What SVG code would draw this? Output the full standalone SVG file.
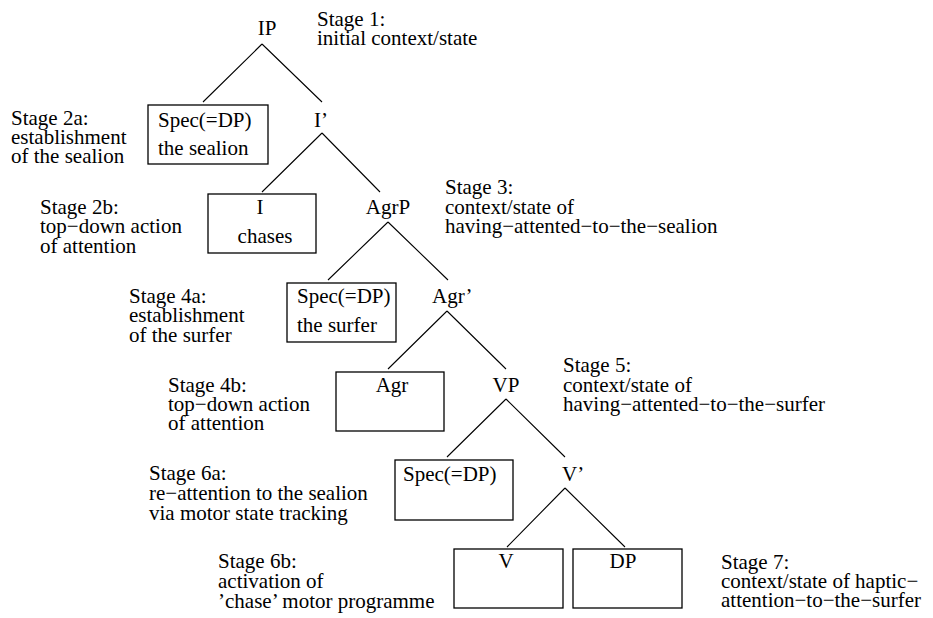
<svg xmlns="http://www.w3.org/2000/svg" width="933" height="618" viewBox="0 0 933 618">
  <style>
    text { font-family: 'Liberation Serif', 'Times New Roman', 'DejaVu Serif', serif; font-size: 21px; fill: #000; }
    .mid { text-anchor: middle; }
    .box { fill: none; stroke: #000; stroke-width: 1.3; }
    .edge { stroke: #000; stroke-width: 1.1; fill: none; }
  </style>
  <rect width="933" height="618" fill="#fff"/>

  <!-- tree branches -->
  <g id="connectors">
    <path class="edge" d="M262,44 L203,102 M262,44 L322,102"/>
    <path class="edge" d="M322,133 L262,192 M322,133 L380,192"/>
    <path class="edge" d="M388,222 L328,280 M388,222 L448,280"/>
    <path class="edge" d="M447,311 L388,369 M447,311 L506,369"/>
    <path class="edge" d="M506,399 L447,457 M506,399 L565,457"/>
    <path class="edge" d="M565,488 L507,547 M565,488 L625,547"/>
  </g>

  <g font-family="Liberation Serif, Times New Roman, DejaVu Serif, serif">
  <!-- tree nodes -->
  <g id="node-IP"><text class="mid" x="267" y="35">IP</text></g>
  <g id="node-spec-sealion">
    <rect class="box" x="148" y="105" width="120" height="59"/>
    <text x="158" y="127">Spec(=DP)</text>
    <text x="158" y="155">the sealion</text>
  </g>
  <g id="node-Ibar"><text x="314" y="127">I’</text></g>
  <g id="node-I">
    <rect class="box" x="208" y="194" width="108" height="59"/>
    <text class="mid" x="260" y="214">I</text>
    <text class="mid" x="265" y="243">chases</text>
  </g>
  <g id="node-AgrP"><text class="mid" x="388" y="214">AgrP</text></g>
  <g id="node-spec-surfer">
    <rect class="box" x="287" y="283" width="109" height="59"/>
    <text x="297" y="303">Spec(=DP)</text>
    <text x="297" y="332">the surfer</text>
  </g>
  <g id="node-Agrbar"><text x="432" y="303">Agr’</text></g>
  <g id="node-Agr">
    <rect class="box" x="336" y="372" width="108" height="59"/>
    <text class="mid" x="392" y="392">Agr</text>
  </g>
  <g id="node-VP"><text class="mid" x="506" y="392">VP</text></g>
  <g id="node-spec-vp">
    <rect class="box" x="395" y="460" width="118" height="60"/>
    <text x="403" y="481">Spec(=DP)</text>
  </g>
  <g id="node-Vbar"><text x="562" y="481">V’</text></g>
  <g id="node-V">
    <rect class="box" x="454" y="549" width="109" height="59"/>
    <text class="mid" x="506" y="568">V</text>
  </g>
  <g id="node-DP">
    <rect class="box" x="573" y="549" width="109" height="59"/>
    <text class="mid" x="623" y="568">DP</text>
  </g>

  <!-- stage annotations -->
  <g id="stage-1">
    <text x="317" y="26">Stage 1:</text>
    <text x="317" y="45">initial context/state</text>
  </g>
  <g id="stage-2a">
    <text x="11" y="125">Stage 2a:</text>
    <text x="11" y="144">establishment</text>
    <text x="11" y="163">of the sealion</text>
  </g>
  <g id="stage-2b">
    <text x="40" y="214">Stage 2b:</text>
    <text x="40" y="233">top−down action</text>
    <text x="40" y="253">of attention</text>
  </g>
  <g id="stage-3">
    <text x="445" y="194">Stage 3:</text>
    <text x="445" y="214">context/state of</text>
    <text x="445" y="233">having−attented−to−the−sealion</text>
  </g>
  <g id="stage-4a">
    <text x="129" y="303">Stage 4a:</text>
    <text x="129" y="322">establishment</text>
    <text x="129" y="342">of the surfer</text>
  </g>
  <g id="stage-4b">
    <text x="168" y="392">Stage 4b:</text>
    <text x="168" y="411">top−down action</text>
    <text x="168" y="430">of attention</text>
  </g>
  <g id="stage-5">
    <text x="563" y="372">Stage 5:</text>
    <text x="563" y="392">context/state of</text>
    <text x="563" y="411">having−attented−to−the−surfer</text>
  </g>
  <g id="stage-6a">
    <text x="149" y="480">Stage 6a:</text>
    <text x="149" y="500">re−attention to the sealion</text>
    <text x="149" y="520">via motor state tracking</text>
  </g>
  <g id="stage-6b">
    <text x="218" y="568">Stage 6b:</text>
    <text x="218" y="588">activation of</text>
    <text x="218" y="608">’chase’ motor programme</text>
  </g>
  <g id="stage-7">
    <text x="721" y="569">Stage 7:</text>
    <text x="721" y="588">context/state of haptic−</text>
    <text x="721" y="607">attention−to−the−surfer</text>
  </g>
  </g>
</svg>
